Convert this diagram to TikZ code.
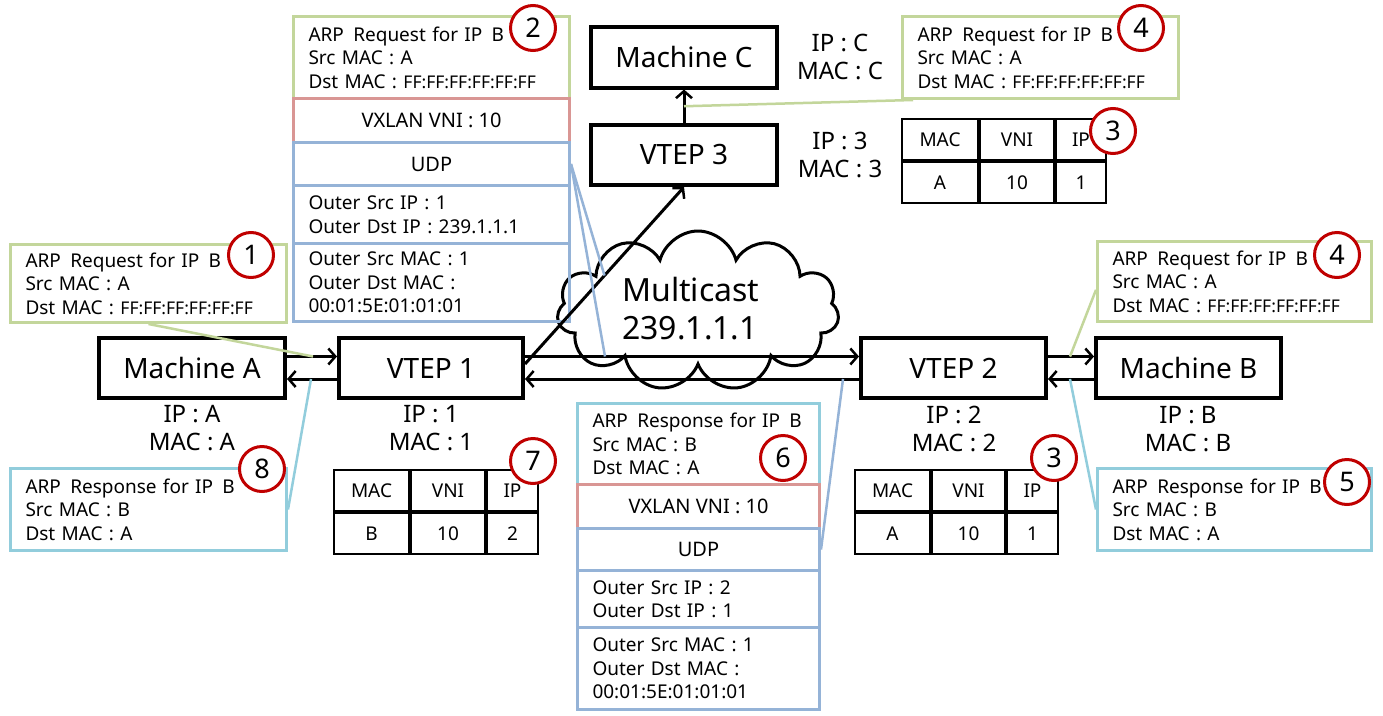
\documentclass[tikz,border=0pt]{standalone}
\usepackage{fontspec}
\setmainfont{Noto Sans}
\usetikzlibrary{arrows.meta,shapes.symbols,calc}
\definecolor{cgreen}{HTML}{C3D69B}
\definecolor{cred}{HTML}{D99694}
\definecolor{cblue}{HTML}{95B3D7}
\definecolor{clblue}{HTML}{92CDDC}
\definecolor{cnum}{HTML}{C00000}
\newcommand\fs[2]{\fontsize{#1}{#2}\selectfont}
\newcommand\wsp{\hspace{3pt}}
\newcommand\ffs{{\fs{17.5}{23.5}FF:FF:FF:FF:FF:FF}}
\newcommand\vtab[9]{%
  \node[cell, minimum width=#4pt] (#1a) at (#2,#3) {MAC};
  \node[cell, minimum width=#5pt] (#1b) at (#1a.north east) {VNI};
  \node[cell, minimum width=#6pt] (#1c) at (#1b.north east) {IP};
  \node[cell, minimum width=#4pt] (#1d) at (#1a.south west) {#7};
  \node[cell, minimum width=#5pt] (#1e) at (#1d.north east) {#8};
  \node[cell, minimum width=#6pt] (#1f) at (#1e.north east) {#9};
}
\begin{document}
\begin{tikzpicture}[x=1pt,y=-1pt,
  mbox/.style={draw, line width=4pt, minimum height=60pt, font=\fs{28}{32}, inner sep=0pt},
  lbl/.style={align=center, font=\fs{24}{28}, inner sep=0pt},
  pk/.style={draw, line width=3pt, anchor=north west, inner xsep=15pt, inner ysep=0pt, align=left, font=\fs{19}{23.5}},
  pkc/.style={draw, line width=3pt, anchor=north west, inner sep=0pt, align=center, font=\fs{20}{24}},
  arr/.style={line width=3pt, -{Straight Barb[length=7pt,width=16pt,line width=2.5pt]}},
  num/.style={circle, draw=cnum, fill=white, line width=3pt, minimum size=45pt, inner sep=0pt, font=\fs{27}{30}},
  call/.style={line width=2.5pt},
  cell/.style={draw, line width=2pt, anchor=north west, inner sep=0pt, minimum height=41pt, font=\fs{19}{22}},
]
\fill[white] (0,0) rectangle (1383,715);
\useasboundingbox (0,0) rectangle (1383,715);

% cloud
\node[cloud, draw, fill=white, line width=3pt, cloud puffs=11, aspect=1.76, minimum width=282pt, minimum height=160pt, inner sep=0pt] (cl) at (698,311) {};
\node[font=\fs{32}{38}, align=left, anchor=west, inner sep=0pt] (mtext) at (622,309) {Multicast\\239.1.1.1};

% machines and VTEPs
\node[mbox, minimum width=186pt] (ma) at (192,368) {Machine A};
\node[mbox, minimum width=184pt] (v1) at (431,368) {VTEP 1};
\node[mbox, minimum width=185pt] (v2) at (953.5,368) {VTEP 2};
\node[mbox, minimum width=185pt] (mb) at (1188.5,368) {Machine B};
\node[mbox, minimum width=186pt, minimum height=61pt] (mc) at (684,57) {Machine C};
\node[mbox, minimum width=186pt] (v3) at (684,155) {VTEP 3};

% labels
\node[lbl] (la) at (192,428) {IP : A\\MAC : A};
\node[lbl] (l1) at (431,428) {IP : 1\\MAC : 1};
\node[lbl] (l2) at (954,429) {IP : 2\\MAC : 2};
\node[lbl] (lb) at (1188,429) {IP : B\\MAC : B};
\node[lbl] (lc) at (840,57) {IP : C\\MAC : C};
\node[lbl] (l3) at (840,155) {IP : 3\\MAC : 3};

% packet stack (request)
\node[pk, draw=cgreen, minimum height=82pt, text width=246pt] (arp2) at (292,15) {ARP\wsp{} Request for IP\wsp{} B\\Src MAC : A\\Dst MAC : \ffs};
\node[pkc, draw=cred, minimum height=44pt, minimum width=276pt] (vx2) at (292,97) {VXLAN VNI : 10};
\node[pkc, draw=cblue, minimum height=43pt, minimum width=276pt] (udp2) at (292,141) {UDP};
\node[pk, draw=cblue, minimum height=58pt, text width=246pt] (ip2) at (292,184) {Outer Src IP : 1\\Outer Dst IP : 239.1.1.1};
\node[pk, draw=cblue, minimum height=78pt, text width=246pt] (mac2) at (292,242) {Outer Src MAC : 1\\Outer Dst MAC :\\00:01:5E:01:01:01};

% packet stack (response)
\node[pk, draw=clblue, minimum height=81pt, text width=212pt] (arp6) at (576,402) {ARP\wsp{} Response for IP\wsp{} B\\Src MAC : B\\Dst MAC : A};
\node[pkc, draw=cred, minimum height=44pt, minimum width=242pt] (vx6) at (576,483) {VXLAN VNI : 10};
\node[pkc, draw=cblue, minimum height=42pt, minimum width=242pt] (udp6) at (576,527) {UDP};
\node[pk, draw=cblue, minimum height=57pt, text width=212pt] (ip6) at (576,569) {Outer Src IP : 2\\Outer Dst IP : 1};
\node[pk, draw=cblue, minimum height=82pt, text width=212pt] (mac6) at (576,626) {Outer Src MAC : 1\\Outer Dst MAC :\\00:01:5E:01:01:01};

% callouts
\node[pk, draw=cgreen, minimum height=78pt, text width=246pt] (c1) at (9,243) {ARP\wsp{} Request for IP\wsp{} B\\Src MAC : A\\Dst MAC : \ffs};
\node[pk, draw=clblue, minimum height=82pt, text width=246pt] (c8) at (9,467) {ARP\wsp{} Response for IP\wsp{} B\\Src MAC : B\\Dst MAC : A};
\node[pk, draw=cgreen, minimum height=82pt, text width=246pt] (c4a) at (901,15) {ARP\wsp{} Request for IP\wsp{} B\\Src MAC : A\\Dst MAC : \ffs};
\node[pk, draw=cgreen, minimum height=80pt, text width=244pt] (c4b) at (1096,240) {ARP\wsp{} Request for IP\wsp{} B\\Src MAC : A\\Dst MAC : \ffs};
\node[pk, draw=clblue, minimum height=82pt, text width=244pt] (c5) at (1096,467) {ARP\wsp{} Response for IP\wsp{} B\\Src MAC : B\\Dst MAC : A};

% tables
\vtab{t7}{333}{469}{75}{74}{51}{B}{10}{2}
\vtab{t3r}{854}{469}{75}{73}{51}{A}{10}{1}
\vtab{t3t}{901}{118}{76}{74}{50}{A}{10}{1}

% arrows
\coordinate (yu) at (0,356.5);
\coordinate (yl) at (0,379);
\coordinate (yd) at (0,364);
\draw[arr] (ma.east|-yu) -- (v1.west|-yu);
\draw[arr] (v1.west|-yl) -- (ma.east|-yl);
\draw[arr] (v1.east|-yu) -- (v2.west|-yu);
\draw[arr] (v2.west|-yl) -- (v1.east|-yl);
\draw[arr] (v2.east|-yu) -- (mb.west|-yu);
\draw[arr] (mb.west|-yl) -- (v2.east|-yl);
\draw[arr] (v1.east|-yd) -- (v3.south);
\draw[arr] (v3.north) -- (mc.south);

% callout lines
\coordinate (p1) at (313,356.5);
\coordinate (p8) at (311,379);
\coordinate (p4b) at (1070,356.5);
\coordinate (p5) at (1070,379);
\coordinate (pd) at ($(v1.east|-yd)!0.5!(v3.south)$);
\coordinate (ph) at (605,356.5);
\coordinate (p6) at (843,379);
\coordinate (p4a) at ($(mc.south)!0.5!(v3.north)$);
\draw[call, cgreen] (c1.south) -- (p1);
\draw[call, clblue] (c8.east) -- (p8);
\draw[call, cgreen] ($(c4b.south west)!0.4!(c4b.north west)$) -- (p4b);
\draw[call, clblue] (c5.west) -- (p5);
\draw[call, cgreen] ($(c4a.south west)+(12,0)$) -- (p4a);
\draw[call, cblue] (udp2.east) -- (pd);
\draw[call, cblue] (udp2.east) -- (ph);
\draw[call, cblue] (udp6.east) -- (p6);

% step numbers
\node[num] (n1) at (251,255) {1};
\node[num] (n2) at (533,28) {2};
\node[num] (n3t) at (1113,131) {3};
\node[num] (n4a) at (1141,28) {4};
\node[num] (n4b) at (1337,255) {4};
\node[num] (n5) at (1347,482) {5};
\node[num] (n6) at (783,458) {6};
\node[num] (n7) at (533,461) {7};
\node[num] (n8) at (262,469) {8};
\node[num] (n3r) at (1054,458) {3};
\end{tikzpicture}
\end{document}
